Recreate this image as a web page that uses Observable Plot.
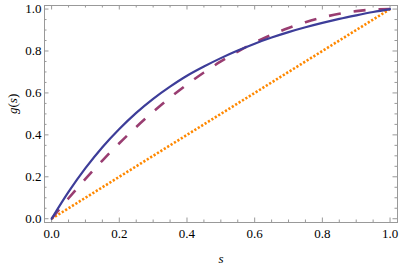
<!DOCTYPE html>
<html>
<head>
<meta charset="utf-8">
<script src="https://cdn.jsdelivr.net/npm/d3@7"></script>
<script src="https://cdn.jsdelivr.net/npm/@observablehq/plot@0.6"></script>
</head>
<body style="margin:0">
<div id="chart"></div>
<script>
// Data
const sValues = [0, 0.05, 0.1, 0.15, 0.2, 0.25, 0.3, 0.35, 0.4, 0.45, 0.5,
                 0.55, 0.6, 0.65, 0.7, 0.75, 0.8, 0.85, 0.9, 0.95, 1];
const gSolid = [0, 0.128, 0.241, 0.341, 0.428, 0.505, 0.572, 0.630, 0.682, 0.726, 0.766,
                0.802, 0.835, 0.864, 0.890, 0.913, 0.934, 0.953, 0.970, 0.986, 1];
const gDashed = [0, 0.0975, 0.19, 0.2775, 0.36, 0.4375, 0.51, 0.5775, 0.64, 0.6975, 0.75,
                 0.7975, 0.84, 0.8775, 0.91, 0.9375, 0.96, 0.9775, 0.99, 0.9975, 1];
const gDotted = [0, 0.05, 0.1, 0.15, 0.2, 0.25, 0.3, 0.35, 0.4, 0.45, 0.5,
                 0.55, 0.6, 0.65, 0.7, 0.75, 0.8, 0.85, 0.9, 0.95, 1];
const majorTicks = [0, 0.2, 0.4, 0.6, 0.8, 1.0];
const minorTicks = [0.05, 0.1, 0.15, 0.25, 0.3, 0.35, 0.45, 0.5, 0.55, 0.65, 0.7, 0.75, 0.85, 0.9, 0.95];

const solidData = sValues.map((s, i) => ({s, g: gSolid[i]}));
const dashedData = sValues.map((s, i) => ({s, g: gDashed[i]}));
const dottedData = sValues.map((s, i) => ({s, g: gDotted[i]}));

const W = 399, H = 266;
const mL = 44, mR = 2, mT = 5, mB = 44;
const pw = W - mL - mR, ph = H - mT - mB;
const tickColor = "#999";
const majLen = 4.5, minLen = 2.5;
const serifFont = "Liberation Serif";

const fmt = d3.format(".1f");

const chart = Plot.plot({
  width: W,
  height: H,
  marginLeft: mL,
  marginRight: mR,
  marginTop: mT,
  marginBottom: mB,
  style: {fontFamily: serifFont, fontSize: "13px"},
  x: {domain: [-0.021, 1.022]},
  y: {domain: [-0.018, 1.017]},
  marks: [
    Plot.frame({stroke: tickColor, strokeWidth: 1}),
    // bottom ticks
    Plot.ruleX(majorTicks, {x: d => d, insetTop: ph - majLen, stroke: tickColor}),
    Plot.ruleX(minorTicks, {x: d => d, insetTop: ph - minLen, stroke: tickColor}),
    // top ticks
    Plot.ruleX(majorTicks, {x: d => d, insetBottom: ph - majLen, stroke: tickColor}),
    Plot.ruleX(minorTicks, {x: d => d, insetBottom: ph - minLen, stroke: tickColor}),
    // left ticks
    Plot.ruleY(majorTicks, {y: d => d, insetRight: pw - majLen, stroke: tickColor}),
    Plot.ruleY(minorTicks, {y: d => d, insetRight: pw - minLen, stroke: tickColor}),
    // right ticks
    Plot.ruleY(majorTicks, {y: d => d, insetLeft: pw - majLen, stroke: tickColor}),
    Plot.ruleY(minorTicks, {y: d => d, insetLeft: pw - minLen, stroke: tickColor}),
    Plot.axisX({ticks: majorTicks, tickSize: 0, tickPadding: 6, tickFormat: fmt, label: null}),
    Plot.axisY({ticks: majorTicks, tickSize: 0, tickPadding: 3, tickFormat: fmt, label: null}),
    Plot.line(dottedData, {x: "s", y: "g", stroke: "#FF8800", strokeWidth: 2.6, strokeDasharray: "2.2,1.8", strokeLinecap: "butt", curve: "linear"}),
    Plot.line(dashedData, {x: "s", y: "g", stroke: "#993D71", strokeWidth: 2.6, strokeDasharray: "12,13", strokeLinecap: "butt", curve: "catmull-rom"}),
    Plot.line(solidData, {x: "s", y: "g", stroke: "#3D3D99", strokeWidth: 2.2, curve: "catmull-rom"}),
    Plot.text(["s"], {frameAnchor: "bottom", lineAnchor: "middle", dy: 36, text: d => d, fontStyle: "italic"}),
    Plot.text(["g(s)"], {frameAnchor: "left", lineAnchor: "middle", dx: -32, rotate: -90, text: d => d})
  ]
});

// Make sure every text uses the serif face
chart.querySelectorAll("text").forEach(t => {
  t.setAttribute("font-family", serifFont);
  t.style.fontFamily = "'" + serifFont + "', serif";
});

// Mixed styling for g(s): italic letters, upright parentheses
chart.querySelectorAll("text").forEach(t => {
  if (t.textContent === "g(s)") {
    t.textContent = "";
    const parts = [["g", "italic"], ["(", "normal"], ["s", "italic"], [")", "normal"]];
    for (const [txt, st] of parts) {
      const ts = document.createElementNS("http://www.w3.org/2000/svg", "tspan");
      ts.setAttribute("font-style", st);
      ts.textContent = txt;
      t.appendChild(ts);
    }
  }
});

document.getElementById("chart").appendChild(chart);
</script>
</body>
</html>
